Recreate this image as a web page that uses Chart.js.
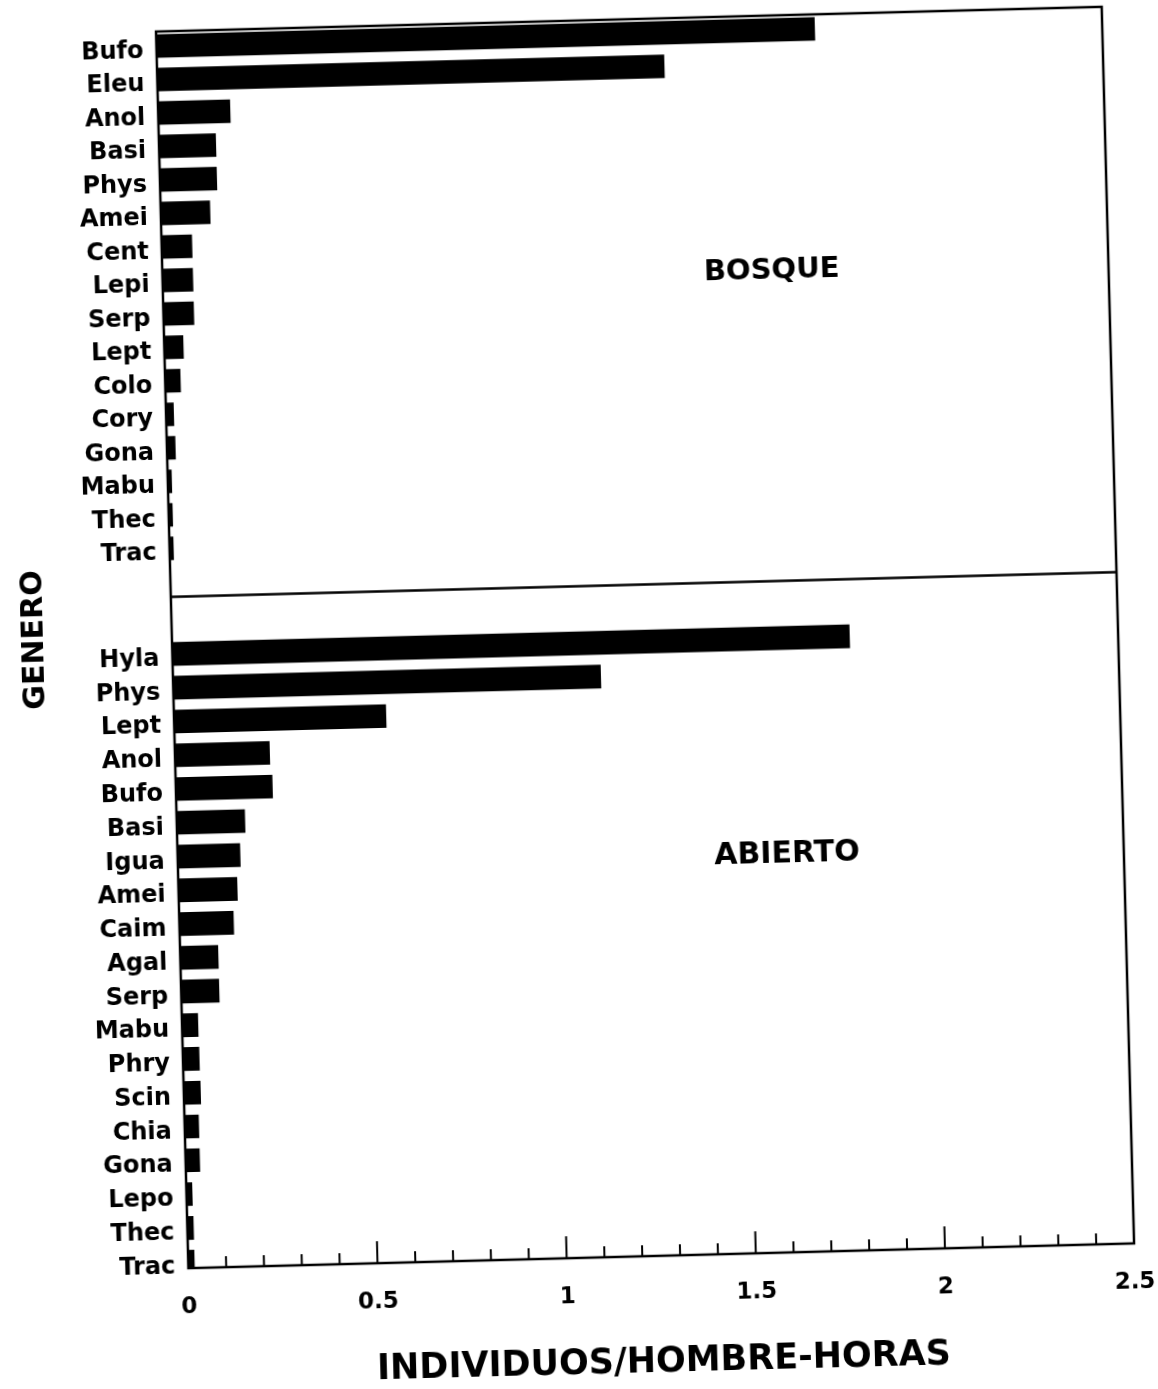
<!DOCTYPE html>
<html>
<head>
<meta charset="utf-8">
<title>Genero - individuos/hombre-horas</title>
<script src="https://cdn.jsdelivr.net/npm/chart.js@4/dist/chart.umd.min.js"></script>
<style>
    html, body { margin: 0; padding: 0; background: #fff; overflow: hidden; }
    /* Le document original est une copie scannée légèrement tournée */
    #cadre { position: relative; width: 1158px; height: 1389px; transform: rotate(-1.5deg); transform-origin: 645px 636px; }
</style>
</head>
<body>
<div id="cadre"><canvas id="graphique"></canvas></div>
<script>
/********************/
/* Données globales */
/********************/
//Panneau du haut : BOSQUE
var generosBosque = ['Bufo', 'Eleu', 'Anol', 'Basi', 'Phys', 'Amei', 'Cent', 'Lepi', 'Serp', 'Lept', 'Colo', 'Cory', 'Gona', 'Mabu', 'Thec', 'Trac'];
var valeursBosque = [1.74, 1.34, 0.19, 0.15, 0.15, 0.13, 0.08, 0.08, 0.08, 0.05, 0.04, 0.02, 0.022, 0.01, 0.01, 0.01];

//Panneau du bas : ABIERTO
var generosAbierto = ['Hyla', 'Phys', 'Lept', 'Anol', 'Bufo', 'Basi', 'Igua', 'Amei', 'Caim', 'Agal', 'Serp', 'Mabu', 'Phry', 'Scin', 'Chia', 'Gona', 'Lepo', 'Thec', 'Trac'];
var valeursAbierto = [1.79, 1.13, 0.56, 0.25, 0.255, 0.18, 0.165, 0.155, 0.143, 0.10, 0.10, 0.042, 0.043, 0.044, 0.037, 0.037, 0.015, 0.016, 0.016];

//Axe X
var etiquettesX = [0, 0.5, 1, 1.5, 2, 2.5];
var titreX = 'INDIVIDUOS/HOMBRE-HORAS';
var titreY = 'GENERO';

/*****************************************/
/* Construction des points (x = valeur) */
/*****************************************/
function versPoints(valeurs) {
    var points = [];
    for (var i = 0; i < valeurs.length; i++) {
        points.push({ x: valeurs[i], y: i });
    }
    return points;
}

//Axe Y d'un panneau : une graduation par genre
function axeGenre(noms, poids, mini, maxi, ordre) {
    return {
        type: 'linear',
        axis: 'y',
        position: 'left',
        stack: 'panneaux',
        stackWeight: poids,
        weight: ordre,
        offset: false,
        reverse: true,
        min: mini,
        max: maxi,
        afterBuildTicks: function(axe) {
            axe.ticks = noms.map(function(n, i) { return { value: i }; });
        },
        afterFit: function(axe) {
            axe.width = 172;
            //pas de marge supplémentaire pour les étiquettes
            axe.paddingTop = 0;
            axe.paddingBottom = 0;
        },
        ticks: {
            autoSkip: false,
            padding: 13,
            labelOffset: 5,
            color: '#000',
            font: { size: 24, weight: 'bold' },
            callback: function(v) { return noms[v]; }
        },
        grid: { display: false, drawTicks: false },
        border: { display: false }
    };
}

/*********************************/
/* Cadre, graduations et textes  */
/*********************************/
var pluginCadre = {
    id: 'cadre',
    afterDraw: function(chart) {
        var ctx = chart.ctx;
        var zone = chart.chartArea;
        var axeX = chart.scales.x;
        var haut = chart.scales.yBosque;
        var bas = chart.scales.yAbierto;

        ctx.save();
        ctx.strokeStyle = '#000';
        ctx.lineWidth = 2.5;
        ctx.strokeRect(zone.left, zone.top, zone.right - zone.left, zone.bottom - zone.top);

        //Séparation des deux panneaux
        ctx.beginPath();
        ctx.moveTo(zone.left, haut.bottom);
        ctx.lineTo(zone.right, haut.bottom);
        ctx.stroke();

        //Graduations vers l'intérieur (0.1 en 0.1, plus longues tous les 0.5)
        ctx.lineWidth = 2;
        for (var i = 1; i < 25; i++) {
            var px = axeX.getPixelForValue(i / 10);
            var longueur = (i % 5 === 0) ? 22 : 11;
            ctx.beginPath();
            ctx.moveTo(px, zone.bottom);
            ctx.lineTo(px, zone.bottom - longueur);
            ctx.stroke();
        }

        //Noms des panneaux
        ctx.fillStyle = '#000';
        ctx.textAlign = 'center';
        ctx.textBaseline = 'middle';
        ctx.font = 'bold 29px "DejaVu Sans"';
        ctx.fillText('BOSQUE', axeX.getPixelForValue(1.61), haut.getPixelForValue(7.18));
        ctx.font = 'bold 30px "DejaVu Sans"';
        ctx.fillText('ABIERTO', axeX.getPixelForValue(1.61), bas.getPixelForValue(6.4));

        //Titre vertical commun
        ctx.translate(35, 624);
        ctx.rotate(-Math.PI / 2);
        ctx.font = 'bold 30px "DejaVu Sans"';
        ctx.fillText(titreY, 0, 0);
        ctx.restore();
    }
};

/************************/
/* Création du graphe   */
/************************/
Chart.defaults.font.family = '"DejaVu Sans"';
Chart.defaults.color = '#000';

var ctx = document.getElementById('graphique').getContext('2d');
var graphique = new Chart(ctx, {
    type: 'bar',
    data: {
        datasets: [{
            label: 'BOSQUE',
            data: versPoints(valeursBosque),
            xAxisID: 'x',
            yAxisID: 'yBosque',
            backgroundColor: '#000',
            borderWidth: 0,
            barThickness: 23,
            grouped: false
        }, {
            label: 'ABIERTO',
            data: versPoints(valeursAbierto),
            xAxisID: 'x',
            yAxisID: 'yAbierto',
            backgroundColor: '#000',
            borderWidth: 0,
            barThickness: 23,
            grouped: false
        }]
    },
    options: {
        indexAxis: 'y',
        responsive: true,
        maintainAspectRatio: false,
        animation: false,
        layout: { padding: { left: 0, right: 40, top: 19, bottom: 0 } },
        plugins: {
            legend: { display: false },
            tooltip: { enabled: false }
        },
        scales: {
            x: {
                type: 'linear',
                position: 'bottom',
                min: 0,
                max: 2.5,
                afterBuildTicks: function(axe) {
                    axe.ticks = etiquettesX.map(function(v) { return { value: v }; });
                },
                afterFit: function(axe) {
                    axe.height = 133;
                    axe.paddingLeft = 0;
                    axe.paddingRight = 0;
                },
                ticks: {
                    padding: 25,
                    color: '#000',
                    maxRotation: 0,
                    font: { size: 23, weight: 'bold' },
                    callback: function(v) { return String(v); }
                },
                grid: { display: false, drawTicks: false },
                border: { display: false },
                title: {
                    display: true,
                    text: titreX,
                    color: '#000',
                    font: { size: 35, weight: 'bold' },
                    padding: { top: 0, bottom: 5 }
                }
            },
            yAbierto: axeGenre(generosAbierto, 671.4, -1.69, 18.19, 0),
            yBosque: axeGenre(generosBosque, 565.6, -0.433, 16.45, 1)
        }
    },
    plugins: [pluginCadre]
});
</script>
</body>
</html>
